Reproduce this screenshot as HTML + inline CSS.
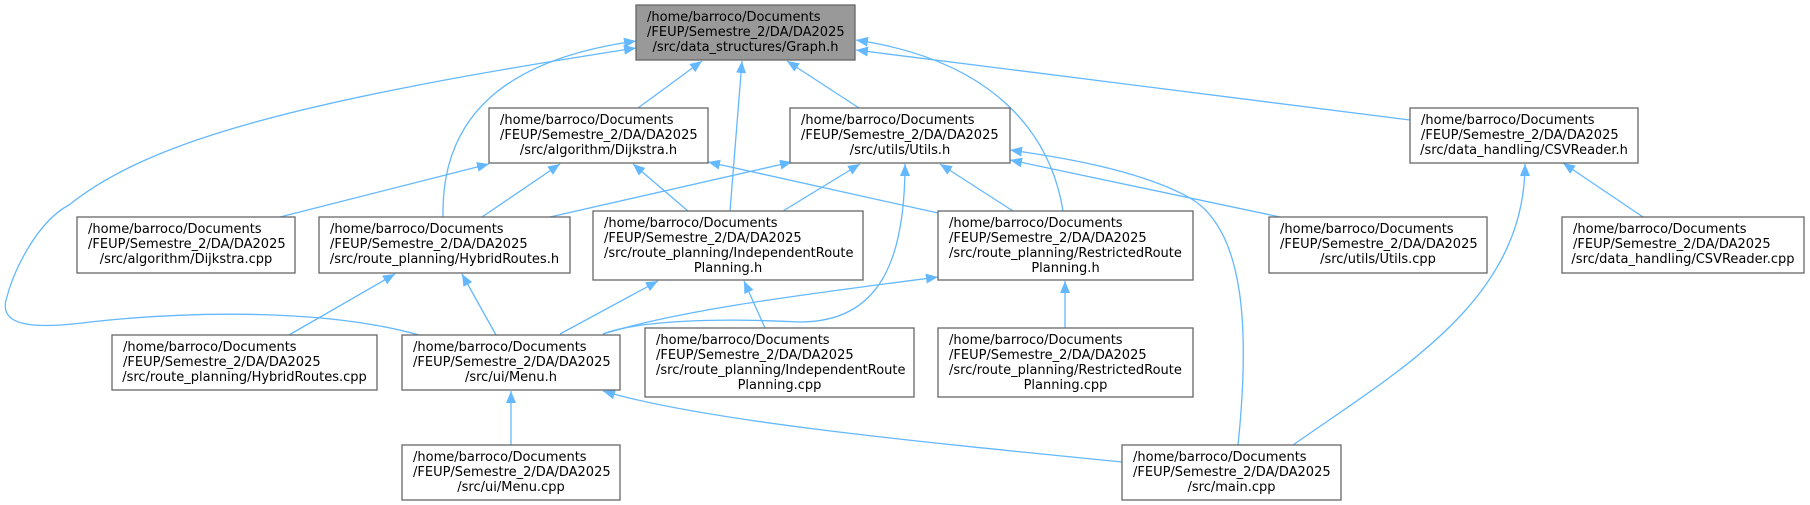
<!DOCTYPE html>
<html><head><meta charset="utf-8"><style>
html,body{margin:0;padding:0;background:#fff;}
svg{display:block;}
text{font-family:"DejaVu Sans","Liberation Sans",sans-serif;font-size:13px;fill:#000;}
.b{fill:#fff;stroke:#666;stroke-width:1.3;}
.g{fill:#999;stroke:#666;stroke-width:1.3;}
.e{fill:none;stroke:#63b8ff;stroke-width:1.3;}
</style></head><body>
<svg width="1810" height="505" viewBox="0 0 1810 505" xmlns="http://www.w3.org/2000/svg">
<defs>
<marker id="a" markerUnits="userSpaceOnUse" markerWidth="14" markerHeight="12" refX="12" refY="5" orient="auto">
<path d="M0,0 L12,5 L0,10 Z" fill="#63b8ff"/>
</marker>
</defs>
<g class="edges">
<path class="e" marker-end="url(#a)" d="M638,108 L702,61"/>
<path class="e" marker-end="url(#a)" d="M859,108 L787,61"/>
<path class="e" marker-end="url(#a)" d="M730,211 L742,61"/>
<path class="e" marker-end="url(#a)" d="M443,217 C441,120 500,60 636,41"/>
<path class="e" marker-end="url(#a)" d="M419,335 C330,310 200,310 90,322 C30,330 0,325 6,300 C15,265 40,220 69,205 C150,140 300,100 636,48"/>
<path class="e" marker-end="url(#a)" d="M1063,211 C1050,130 990,60 856,40"/>
<path class="e" marker-end="url(#a)" d="M1410,120 L856,50"/>
<path class="e" marker-end="url(#a)" d="M280,217 L489,164"/>
<path class="e" marker-end="url(#a)" d="M482,217 L560,164"/>
<path class="e" marker-end="url(#a)" d="M688,211 L633,164"/>
<path class="e" marker-end="url(#a)" d="M938,213 L708,162"/>
<path class="e" marker-end="url(#a)" d="M550,217 L792,162"/>
<path class="e" marker-end="url(#a)" d="M783,211 L860,164"/>
<path class="e" marker-end="url(#a)" d="M603,334 C640,320 720,318 800,322 C880,322 905,260 905,164"/>
<path class="e" marker-end="url(#a)" d="M603,334 C680,310 800,295 938,277"/>
<path class="e" marker-end="url(#a)" d="M1013,211 L940,164"/>
<path class="e" marker-end="url(#a)" d="M1280,217 L1010,160"/>
<path class="e" marker-end="url(#a)" d="M1238,445 C1250,330 1245,230 1190,198 C1140,170 1060,157 1010,150"/>
<path class="e" marker-end="url(#a)" d="M560,334 L658,281"/>
<path class="e" marker-end="url(#a)" d="M765,328 L744,281"/>
<path class="e" marker-end="url(#a)" d="M289,335 L395,274"/>
<path class="e" marker-end="url(#a)" d="M496,335 L462,274"/>
<path class="e" marker-end="url(#a)" d="M1065,328 L1065,281"/>
<path class="e" marker-end="url(#a)" d="M511,445 L511,391"/>
<path class="e" marker-end="url(#a)" d="M1122,462 C900,440 700,420 603,391"/>
<path class="e" marker-end="url(#a)" d="M1293,445 C1400,370 1525,300 1525,164"/>
<path class="e" marker-end="url(#a)" d="M1643,217 L1563,163"/>
</g>
<g class="nodes">
<rect class="g" x="636" y="5" width="219" height="55"/>
<text x="647" y="21">/home/barroco/Documents</text><text x="647" y="36">/FEUP/Semestre_2/DA/DA2025</text><text x="745.5" y="51" text-anchor="middle">/src/data_structures/Graph.h</text>

<rect class="b" x="489" y="108" width="219" height="55"/>
<text x="500" y="124">/home/barroco/Documents</text><text x="500" y="139">/FEUP/Semestre_2/DA/DA2025</text><text x="598.5" y="154" text-anchor="middle">/src/algorithm/Dijkstra.h</text>

<rect class="b" x="790" y="108" width="220" height="55"/>
<text x="801" y="124">/home/barroco/Documents</text><text x="801" y="139">/FEUP/Semestre_2/DA/DA2025</text><text x="900" y="154" text-anchor="middle">/src/utils/Utils.h</text>

<rect class="b" x="1410" y="108" width="228" height="55"/>
<text x="1421" y="124">/home/barroco/Documents</text><text x="1421" y="139">/FEUP/Semestre_2/DA/DA2025</text><text x="1524" y="154" text-anchor="middle">/src/data_handling/CSVReader.h</text>

<rect class="b" x="77" y="217" width="218" height="56"/>
<text x="88" y="233">/home/barroco/Documents</text><text x="88" y="248">/FEUP/Semestre_2/DA/DA2025</text><text x="186" y="263" text-anchor="middle">/src/algorithm/Dijkstra.cpp</text>

<rect class="b" x="319" y="217" width="251" height="56"/>
<text x="330" y="233">/home/barroco/Documents</text><text x="330" y="248">/FEUP/Semestre_2/DA/DA2025</text><text x="444.5" y="263" text-anchor="middle">/src/route_planning/HybridRoutes.h</text>

<rect class="b" x="593" y="211" width="270" height="69"/>
<text x="604" y="227">/home/barroco/Documents</text><text x="604" y="242">/FEUP/Semestre_2/DA/DA2025</text><text x="604" y="257">/src/route_planning/IndependentRoute</text><text x="728" y="272" text-anchor="middle">Planning.h</text>

<rect class="b" x="938" y="211" width="255" height="69"/>
<text x="949" y="227">/home/barroco/Documents</text><text x="949" y="242">/FEUP/Semestre_2/DA/DA2025</text><text x="949" y="257">/src/route_planning/RestrictedRoute</text><text x="1065.5" y="272" text-anchor="middle">Planning.h</text>

<rect class="b" x="1269" y="217" width="218" height="56"/>
<text x="1280" y="233">/home/barroco/Documents</text><text x="1280" y="248">/FEUP/Semestre_2/DA/DA2025</text><text x="1378" y="263" text-anchor="middle">/src/utils/Utils.cpp</text>

<rect class="b" x="1562" y="217" width="242" height="56"/>
<text x="1573" y="233">/home/barroco/Documents</text><text x="1573" y="248">/FEUP/Semestre_2/DA/DA2025</text><text x="1683" y="263" text-anchor="middle">/src/data_handling/CSVReader.cpp</text>

<rect class="b" x="112" y="335" width="265" height="55"/>
<text x="123" y="351">/home/barroco/Documents</text><text x="123" y="366">/FEUP/Semestre_2/DA/DA2025</text><text x="244.5" y="381" text-anchor="middle">/src/route_planning/HybridRoutes.cpp</text>

<rect class="b" x="402" y="335" width="218" height="55"/>
<text x="413" y="351">/home/barroco/Documents</text><text x="413" y="366">/FEUP/Semestre_2/DA/DA2025</text><text x="511" y="381" text-anchor="middle">/src/ui/Menu.h</text>

<rect class="b" x="645" y="328" width="269" height="69"/>
<text x="656" y="344">/home/barroco/Documents</text><text x="656" y="359">/FEUP/Semestre_2/DA/DA2025</text><text x="656" y="374">/src/route_planning/IndependentRoute</text><text x="779.5" y="389" text-anchor="middle">Planning.cpp</text>

<rect class="b" x="938" y="328" width="255" height="69"/>
<text x="949" y="344">/home/barroco/Documents</text><text x="949" y="359">/FEUP/Semestre_2/DA/DA2025</text><text x="949" y="374">/src/route_planning/RestrictedRoute</text><text x="1065.5" y="389" text-anchor="middle">Planning.cpp</text>

<rect class="b" x="402" y="445" width="218" height="55"/>
<text x="413" y="461">/home/barroco/Documents</text><text x="413" y="476">/FEUP/Semestre_2/DA/DA2025</text><text x="511" y="491" text-anchor="middle">/src/ui/Menu.cpp</text>

<rect class="b" x="1122" y="445" width="219" height="55"/>
<text x="1133" y="461">/home/barroco/Documents</text><text x="1133" y="476">/FEUP/Semestre_2/DA/DA2025</text><text x="1231.5" y="491" text-anchor="middle">/src/main.cpp</text>
</g>
</svg>
</body></html>
